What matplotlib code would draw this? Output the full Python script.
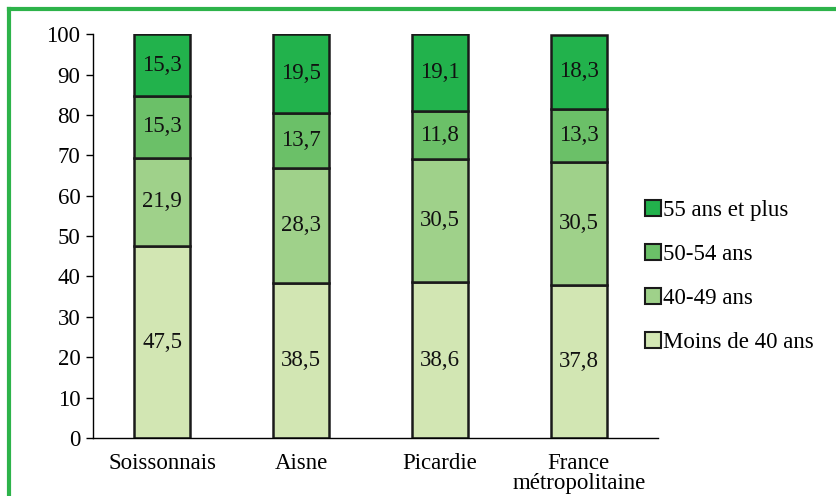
import matplotlib.pyplot as plt
from matplotlib.lines import Line2D
from matplotlib.patches import Patch
import numpy as np

plt.rcParams['font.family'] = ['Liberation Serif', 'DejaVu Serif']

# Répartition par âge (%)
zones = ["Soissonnais", "Aisne", "Picardie", "France\nmétropolitaine"]
moins_40 = [47.5, 38.5, 38.6, 37.8]
de_40_49 = [21.9, 28.3, 30.5, 30.5]
de_50_54 = [15.3, 13.7, 11.8, 13.3]
plus_55 = [15.3, 19.5, 19.1, 18.3]

tranches = ["Moins de 40 ans", "40-49 ans", "50-54 ans", "55 ans et plus"]
couleurs = ["#d2e6b3", "#9fd18a", "#6bc068", "#22b24c"]

fs = 16.5

fig = plt.figure(figsize=(8.36, 4.96), dpi=100)
ax = fig.add_axes([0.111, 0.117, 0.676, 0.814])

x = np.arange(len(zones))
bas = np.zeros(len(zones))
for serie, coul in zip([moins_40, de_40_49, de_50_54, plus_55], couleurs):
    ax.bar(x, serie, 0.40, bottom=bas, color=coul, edgecolor="#1a1a1a", linewidth=1.8)
    for xi, b, v in zip(x, bas, serie):
        ax.text(xi, b + v / 2, f"{v:.1f}".replace(".", ","), ha="center", va="center",
                fontsize=fs, color="#111111")
    bas += np.array(serie)

ax.set_xlim(-0.5, 3.57)
ax.set_ylim(0, 100)
ax.set_yticks(range(0, 101, 10))
ax.set_xticks(x)
ax.set_xticklabels(zones, fontsize=fs, linespacing=0.9)
ax.tick_params(axis="y", labelsize=fs, length=5, width=1, pad=4)
ax.tick_params(axis="x", length=0, pad=11)
for s in ["top", "right"]:
    ax.spines[s].set_visible(False)
for s in ["left", "bottom"]:
    ax.spines[s].set_linewidth(1)

handles = [Patch(facecolor=c, edgecolor="#1a1a1a", linewidth=1.5) for c in couleurs][::-1]
leg = fig.legend(handles, tranches[::-1], loc="center left", bbox_to_anchor=(0.747, 0.443),
                 frameon=False, fontsize=fs, handlelength=0.7, handleheight=0.7,
                 handletextpad=0.1, labelspacing=1.0)

# cadre vert
vert = "#2db34a"
fig.add_artist(Line2D([0.011, 1.0], [0.981, 0.981], color=vert, linewidth=3, transform=fig.transFigure))
fig.add_artist(Line2D([0.011, 0.011], [0.0, 0.981], color=vert, linewidth=3, transform=fig.transFigure))

fig.savefig("out.png", dpi=100)
